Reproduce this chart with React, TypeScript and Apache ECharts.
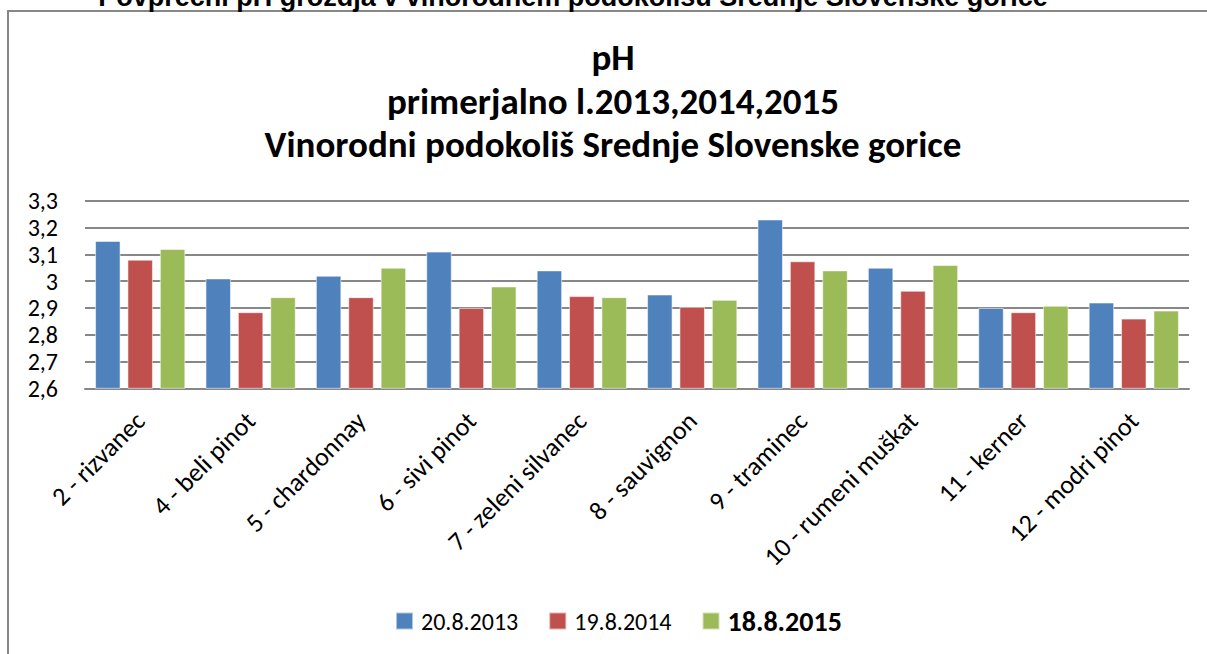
import React, { useEffect, useRef } from "react";
import * as echarts from "echarts";

const categories = [
  "2 - rizvanec",
  "4 - beli pinot",
  "5 - chardonnay",
  "6 - sivi pinot",
  "7 - zeleni silvanec",
  "8 - sauvignon",
  "9 - traminec",
  "10 - rumeni muškat",
  "11 - kerner",
  "12 - modri pinot",
];
const seriesNames = ["20.8.2013", "19.8.2014", "18.8.2015"];
const values2013 = [3.15, 3.01, 3.02, 3.11, 3.04, 2.95, 3.23, 3.05, 2.9, 2.92];
const values2014 = [3.08, 2.884, 2.94, 2.9, 2.944, 2.904, 3.074, 2.964, 2.884, 2.86];
const values2015 = [3.12, 2.94, 3.05, 2.98, 2.94, 2.93, 3.04, 3.06, 2.908, 2.89];
const colors = ["#4F81BD", "#C0504D", "#9BBB59"];
const yTicks = { min: 2.6, max: 3.3, interval: 0.1 };
const titleLines = [
  "pH",
  "primerjalno l.2013,2014,2015",
  "Vinorodni podokoliš Srednje Slovenske gorice",
];
const topCaption =
  "Povprečni pH grozdja v vinorodnem podokolišu Srednje Slovenske gorice";

const FONT = "Carlito, Lato, 'Open Sans', sans-serif";

export default function App() {
  const ref = useRef<HTMLDivElement>(null);
  useEffect(() => {
    if (!ref.current) return;
    const chart = echarts.init(ref.current, undefined, { renderer: "svg" });
    const data = [values2013, values2014, values2015];
    chart.setOption({
      animation: false,
      backgroundColor: "#ffffff",
      title: {
        text: titleLines.join("\n"),
        left: 613,
        top: 36,
        padding: 0,
        textAlign: "center",
        textStyle: {
          fontFamily: FONT,
          fontWeight: "bold",
          fontSize: 37,
          lineHeight: 43.5,
          color: "#000",
        },
      },
      graphic: [
        {
          type: "rect",
          shape: { x: 8, y: 11, width: 1210, height: 660 },
          style: { fill: "none", stroke: "#878787", lineWidth: 2 },
          silent: true,
          z: 0,
        },
        {
          type: "text",
          x: 573,
          y: 10,
          style: {
            text: topCaption,
            textAlign: "center",
            textVerticalAlign: "bottom",
            verticalAlign: "bottom",
            font: "bold 27px 'Liberation Sans', Arial, sans-serif",
            fill: "#000",
          },
          z: 10,
        },
      ],
      legend: {
        data: seriesNames,
        left: 395,
        top: 607,
        padding: 0,
        icon: "rect",
        itemWidth: 17,
        itemHeight: 17,
        itemGap: 30,
        textStyle: {
          fontFamily: FONT,
          fontSize: 24,
          color: "#000",
          padding: [0, 0, 0, 3],
          rich: {
            b: { fontFamily: FONT, fontSize: 28, fontWeight: "bold", color: "#000" },
          },
        },
        formatter: (name: string) => (name === "18.8.2015" ? `{b|${name}}` : name),
      },
      grid: {
        left: 85,
        right: 18,
        top: 200.7,
        bottom: 265.7,
        containLabel: false,
      },
      xAxis: {
        type: "category",
        data: categories,
        axisLine: { lineStyle: { color: "#878787", width: 2 } },
        axisTick: { show: false },
        axisLabel: {
          rotate: 45,
          interval: 0,
          margin: 28,
          fontFamily: FONT,
          fontSize: 26,
          color: "#000",
        },
      },
      yAxis: {
        type: "value",
        min: yTicks.min,
        max: yTicks.max,
        interval: yTicks.interval,
        axisLine: { show: false },
        axisTick: { show: false },
        splitLine: { lineStyle: { color: "#878787", width: 2 } },
        axisLabel: {
          margin: 27,
          fontFamily: FONT,
          fontSize: 24,
          lineHeight: 20,
          color: "#000",
          formatter: (v: number) => String(Number(v.toFixed(1))).replace(".", ","),
        },
      },
      series: seriesNames.map((name, i) => ({
        name,
        type: "bar",
        data: data[i],
        barWidth: 25.5,
        barGap: "27%",
        itemStyle: {
          color: colors[i],
          borderColor: "rgba(255,255,255,0.55)",
          borderWidth: 1,
        },
      })),
    });
    return () => chart.dispose();
  }, []);
  return (
    <div
      ref={ref}
      style={{ position: "fixed", left: 0, top: 0, width: 1207, height: 654 }}
    />
  );
}
